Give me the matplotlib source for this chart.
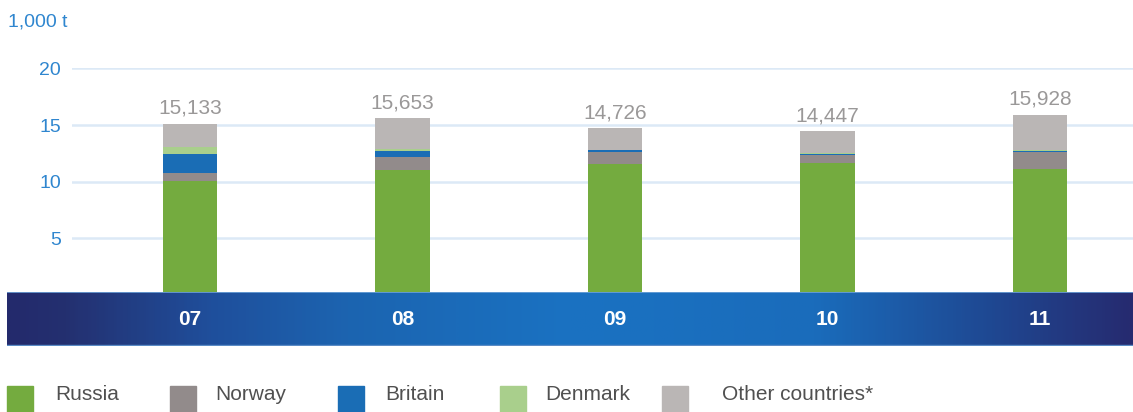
import numpy as np
import matplotlib.pyplot as plt
import matplotlib.transforms as mtransforms
from matplotlib.colors import LinearSegmentedColormap
from matplotlib.patches import Rectangle

plt.rcParams['font.family'] = ['Liberation Sans', 'DejaVu Sans']

# data (1,000 t)
years = ['07', '08', '09', '10', '11']
totals = [15.133, 15.653, 14.726, 14.447, 15.928]
russia = [10.10, 11.05, 11.58, 11.63, 11.10]
norway = [0.69, 1.17, 1.06, 0.70, 1.55]
britain = [1.67, 0.47, 0.15, 0.15, 0.08]
denmark = [0.58, 0.20, 0.05, 0.05, 0.05]
other = [t - r - n - b - d for t, r, n, b, d in zip(totals, russia, norway, britain, denmark)]
value_labels = ['15,133', '15,653', '14,726', '14,447', '15,928']

series = [russia, norway, britain, denmark, other]
names = ['Russia', 'Norway', 'Britain', 'Denmark', 'Other countries*']
colors = ['#74ab3f', '#928b8b', '#1a6db5', '#a9cf8c', '#bab6b5']

W, H = 1133, 412
fig = plt.figure(figsize=(W / 100, H / 100), dpi=100)

# main axes, pixel geometry of the reference
ax = fig.add_axes([72 / W, (H - 295) / H, (W - 72) / W, 226.6 / H])
ax.set_zorder(1)

x = np.arange(len(years))
bottom = np.zeros(len(years))
for vals, c in zip(series, colors):
    ax.bar(x, vals, 0.255, bottom=bottom, color=c, zorder=2)
    bottom += np.array(vals)

for xi, t, lab in zip(x, totals, value_labels):
    ax.annotate(lab, (xi, t), xytext=(0, 4), textcoords='offset points',
                ha='center', va='bottom', fontsize=15, color='#9a9898')

ax.set_xlim((72 - 190) / 212.5, (W - 190) / 212.5)
ax.set_ylim(0, 20)
ax.set_yticks([5, 10, 15, 20])
ax.set_xticks([])
ax.grid(axis='y', color='#dce9f6', linewidth=1.8, zorder=0)
ax.set_axisbelow(True)
for s in ax.spines.values():
    s.set_visible(False)
ax.tick_params(axis='y', length=0, pad=8, labelsize=14, labelcolor='#2f86cf')

# gradient band with the year labels, drawn over the bar bottoms
band = fig.add_axes([7 / W, (H - 345.5) / H, (W - 7) / W, 54 / H])
band.set_zorder(2)
cmap = LinearSegmentedColormap.from_list('band', [
    (0.0, '#232a6c'), (0.05, '#243070'), (0.18, '#1f4f9c'), (0.3, '#1c64b0'),
    (0.5, '#1a72c2'), (0.72, '#1a6cbb'), (0.88, '#1f4791'), (1.0, '#262b70')])
band.imshow(np.linspace(0, 1, 400).reshape(1, -1), cmap=cmap, aspect='auto',
            extent=[0, 1, 0, 1])
band.axhline(0.985, color='#6fa3d8', linewidth=1.2)
band.axhline(0.015, color='#5b8cc6', linewidth=1)
band.set_xlim(0, 1)
band.set_ylim(0, 1)
band.axis('off')

trans = mtransforms.blended_transform_factory(ax.transData, band.transAxes)
for xi, yr in zip(x, years):
    band.text(xi, 0.49, yr, transform=trans, ha='center', va='center',
              fontsize=15, fontweight='bold', color='white')

fig.text(8 / W, 1 - 22 / H, '1,000 t', fontsize=14, color='#2f86cf',
         ha='left', va='center')

# legend
sq_x = [7, 170, 338, 500, 662]
txt_x = [55, 215, 385, 545, 722]
for sx, tx, c, n in zip(sq_x, txt_x, colors, names):
    fig.patches.append(Rectangle((sx / W, 0), 26 / W, 26 / H, color=c,
                                 transform=fig.transFigure))
    fig.text(tx / W, 1 - 394 / H, n, fontsize=15, color='#505050',
             ha='left', va='center')

fig.savefig('out.png', dpi=100)
